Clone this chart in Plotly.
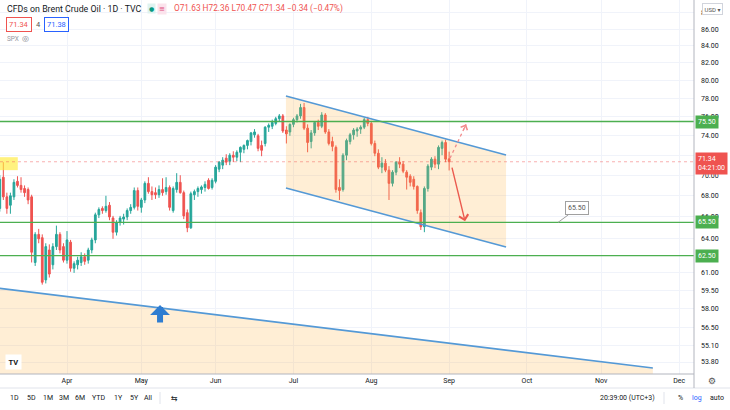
import math
import plotly.graph_objects as go

# ---------------- data ----------------
dates = [
    "2021-03-01", "2021-03-02", "2021-03-03", "2021-03-04", "2021-03-05", "2021-03-08", "2021-03-09",
    "2021-03-10", "2021-03-11", "2021-03-12", "2021-03-15", "2021-03-16", "2021-03-17", "2021-03-18",
    "2021-03-19", "2021-03-22", "2021-03-23", "2021-03-24", "2021-03-25", "2021-03-26", "2021-03-29",
    "2021-03-30", "2021-03-31",
    "2021-04-01", "2021-04-05", "2021-04-06", "2021-04-07", "2021-04-08", "2021-04-09", "2021-04-12",
    "2021-04-13", "2021-04-14", "2021-04-15", "2021-04-16", "2021-04-19", "2021-04-20", "2021-04-21",
    "2021-04-22", "2021-04-23", "2021-04-26", "2021-04-27", "2021-04-28", "2021-04-29", "2021-04-30",
    "2021-05-03", "2021-05-04", "2021-05-05", "2021-05-06", "2021-05-07", "2021-05-10", "2021-05-11",
    "2021-05-12", "2021-05-13", "2021-05-14", "2021-05-17", "2021-05-18", "2021-05-19", "2021-05-20",
    "2021-05-21", "2021-05-24", "2021-05-25", "2021-05-26", "2021-05-27", "2021-05-28", "2021-05-31",
    "2021-06-01", "2021-06-02", "2021-06-03", "2021-06-04", "2021-06-07", "2021-06-08", "2021-06-09",
    "2021-06-10", "2021-06-11", "2021-06-14", "2021-06-15", "2021-06-16", "2021-06-17", "2021-06-18",
    "2021-06-21", "2021-06-22", "2021-06-23", "2021-06-24", "2021-06-25", "2021-06-28", "2021-06-29",
    "2021-06-30",
    "2021-07-01", "2021-07-02", "2021-07-05", "2021-07-06", "2021-07-07", "2021-07-08", "2021-07-09",
    "2021-07-12", "2021-07-13", "2021-07-14", "2021-07-15", "2021-07-16", "2021-07-19", "2021-07-20",
    "2021-07-21", "2021-07-22", "2021-07-23", "2021-07-26", "2021-07-27", "2021-07-28", "2021-07-29",
    "2021-07-30",
    "2021-08-02", "2021-08-03", "2021-08-04", "2021-08-05", "2021-08-06", "2021-08-09", "2021-08-10",
    "2021-08-11", "2021-08-12", "2021-08-13", "2021-08-16", "2021-08-17", "2021-08-18", "2021-08-19",
    "2021-08-20", "2021-08-23", "2021-08-24", "2021-08-25", "2021-08-26", "2021-08-27", "2021-08-30",
    "2021-08-31", "2021-09-01",
]
opens = [
    64.2, 63.7, 62.7, 64.1, 66.8, 69.8, 67.9, 67.1, 67.9, 69.4, 69.0, 68.7, 68.6, 67.9, 61.9, 64.4,
    64.1, 60.4, 63.0, 61.7, 63.3, 64.4, 63.3,
    62.1, 63.7, 61.4, 61.7, 61.9, 62.4, 62.1, 63.0, 63.9, 66.2, 66.8, 66.6, 67.1, 65.9, 64.6, 65.5,
    65.8, 66.0, 66.6, 66.9, 68.5,
    66.9, 67.6, 69.2, 68.4, 68.3, 68.1, 68.6, 68.4, 68.8, 66.6, 68.6, 69.3, 68.3, 66.4, 65.0, 68.1,
    68.4, 68.6, 68.8, 69.5, 68.8,
    69.4, 70.6, 71.0, 71.7, 71.4, 72.0, 71.8, 72.3, 72.6, 73.0, 73.4, 74.1, 74.0, 73.0, 73.2, 74.9,
    75.0, 75.3, 75.8, 76.1, 74.6, 74.4,
    75.2, 75.7, 76.1, 77.0, 74.8, 73.4, 74.3, 75.4, 75.0, 76.2, 74.4, 73.4, 72.8, 68.8, 68.6, 72.0,
    73.4, 74.1, 74.5, 74.7, 74.9, 75.7,
    75.3, 73.2, 72.2, 70.8, 71.2, 70.5, 69.2, 70.3, 71.3, 71.1, 70.3, 69.9, 69.6, 68.9, 66.4, 65.1,
    68.7, 70.8, 71.6, 71.1, 72.7, 73.3, 71.63,
]
highs = [
    64.8, 64.0, 64.8, 67.0, 70.0, 71.3, 68.3, 68.3, 69.6, 69.9, 69.8, 69.0, 68.8, 68.1, 64.6, 64.9,
    64.4, 63.6, 63.5, 63.6, 65.2, 64.6, 63.6,
    64.7, 63.9, 62.0, 62.4, 62.8, 62.7, 63.2, 64.1, 66.4, 66.9, 67.0, 68.0, 67.4, 66.1, 65.7, 66.1,
    66.3, 66.8, 67.2, 68.8, 68.8,
    67.8, 69.4, 69.8, 68.9, 68.8, 69.0, 69.7, 69.8, 69.0, 68.9, 70.2, 70.0, 68.5, 66.7, 68.4, 68.6,
    68.9, 69.0, 69.4, 69.7, 69.7,
    71.0, 71.4, 71.8, 72.1, 72.2, 72.4, 72.5, 72.9, 73.1, 73.6, 74.4, 74.7, 74.2, 73.5, 75.0, 75.3,
    75.7, 76.0, 76.3, 76.3, 75.0, 75.3,
    75.9, 76.3, 77.4, 77.5, 75.2, 74.6, 75.5, 75.7, 76.5, 76.4, 74.7, 73.9, 73.0, 69.6, 72.2, 73.7,
    74.3, 74.8, 74.9, 75.1, 75.9, 76.0,
    75.5, 73.5, 72.6, 71.8, 71.6, 70.9, 70.5, 71.4, 71.8, 71.4, 70.5, 70.1, 69.9, 69.0, 66.7, 68.9,
    71.1, 71.8, 71.9, 73.0, 73.5, 73.6, 72.36,
]
lows = [
    63.1, 62.3, 62.3, 63.5, 66.5, 67.6, 66.3, 66.3, 67.6, 68.8, 68.3, 67.9, 67.2, 61.9, 61.6, 63.6,
    60.0, 60.1, 60.6, 61.3, 63.0, 62.7, 61.9,
    61.8, 61.1, 61.0, 61.3, 61.6, 61.7, 61.8, 62.7, 63.6, 65.9, 66.3, 66.4, 65.7, 64.0, 64.3, 65.2,
    65.3, 65.7, 66.3, 66.7, 66.6,
    66.4, 67.3, 68.2, 67.6, 67.7, 67.8, 68.0, 68.1, 66.6, 66.4, 68.3, 68.2, 65.8, 64.6, 64.9, 67.6,
    67.9, 68.2, 68.4, 68.6, 68.6,
    69.2, 70.3, 70.6, 71.0, 71.0, 71.3, 71.4, 71.3, 72.2, 72.6, 73.0, 73.8, 72.4, 71.9, 72.9, 74.4,
    74.7, 75.1, 75.5, 74.3, 73.2, 74.0,
    74.9, 75.4, 75.8, 74.6, 72.3, 72.7, 74.0, 74.6, 74.8, 74.2, 73.0, 72.4, 68.3, 67.6, 68.4, 71.5,
    73.1, 73.6, 73.9, 74.2, 74.7, 75.0,
    73.0, 71.9, 70.6, 70.2, 70.3, 67.6, 68.9, 70.0, 70.7, 70.2, 68.6, 68.9, 68.6, 66.3, 64.8, 64.6,
    68.4, 70.5, 70.7, 70.6, 72.0, 71.3, 70.47,
]
closes = [
    63.7, 62.7, 64.1, 66.7, 69.6, 67.9, 66.8, 68.0, 69.3, 69.0, 68.6, 68.3, 67.6, 62.8, 64.4, 64.0,
    60.2, 63.3, 60.9, 63.3, 64.4, 63.0, 62.1,
    63.9, 61.4, 61.8, 62.1, 62.4, 62.0, 63.0, 63.9, 66.2, 66.7, 66.6, 67.0, 66.0, 64.6, 65.5, 65.9,
    66.0, 66.6, 66.9, 68.5, 67.0,
    67.6, 69.2, 68.4, 68.1, 68.1, 68.6, 68.3, 68.8, 66.9, 68.7, 69.3, 68.3, 66.1, 65.0, 68.2, 68.4,
    68.7, 68.85, 69.1, 68.7, 69.5,
    70.8, 71.3, 71.5, 71.3, 72.0, 71.8, 72.3, 72.8, 73.0, 73.5, 74.3, 74.4, 72.7, 72.5, 74.9, 75.1,
    75.4, 75.8, 76.1, 74.5, 74.2, 75.2,
    75.7, 76.1, 77.0, 74.8, 73.3, 74.3, 75.4, 75.0, 76.2, 74.4, 73.2, 72.9, 68.6, 68.5, 72.0, 73.5,
    74.1, 74.6, 74.7, 74.9, 75.7, 75.3,
    73.2, 72.2, 70.8, 71.2, 70.5, 69.2, 70.3, 71.3, 71.1, 70.4, 69.8, 69.3, 68.9, 66.6, 65.1, 68.7,
    70.9, 71.6, 71.1, 72.8, 73.3, 71.6, 71.34,
]

month_ticks = ["2021-04-01", "2021-05-03", "2021-06-01", "2021-07-01", "2021-08-02",
               "2021-09-01", "2021-10-01", "2021-11-01", "2021-12-01"]
month_labels = ["Apr", "May", "Jun", "Jul", "Aug", "Sep", "Oct", "Nov", "Dec"]
price_ticks = [53.8, 55.1, 56.5, 58.0, 59.5, 61.0, 64.0, 66.0, 68.0, 70.0, 72.0, 74.0,
               76.0, 78.0, 80.0, 82.0, 84.0, 86.0, 88.0]

levels = [75.50, 65.50, 62.50]
last_price = 71.34

# drawings (date, price)
x_start, x_end = "2021-03-05 01:25", "2021-12-07 05:00"
channel_x = ["2021-06-28 21:00", "2021-09-23 02:00"]
channel_upper = [78.26, 72.02]
channel_lower = [68.75, 63.26]
trend_x = ["2021-03-04 12:00", "2021-11-19 14:00"]
trend_y = [59.70, 53.35]
yellow_x = ["2021-03-03", "2021-03-12 02:00"]
yellow_y = [70.50, 71.80]
down_arrow = (("2021-09-01 17:00", 70.9), ("2021-09-07 12:00", 65.6))
up_arrow = (("2021-09-01 06:00", 71.7), ("2021-09-07 19:00", 75.2))
callout_point = ("2021-10-13 19:00", 65.50)
blue_arrow_tip = ("2021-05-10 07:00", 58.3)

# ---------------- figure ----------------
W, H = 730, 410
PL, PR, PT, PB = 0, 36, 0, 36
PW, PH = W - PL - PR, H - PT - PB


def px(X):
    return (X - PL) / PW


def py(Y):
    return (H - PB - Y) / PH


RED = "#ef5350"
GREEN = "#26a69a"
LEVEL = "#4caf50"
BLUE = "#5499d6"
FILL = "rgba(255,179,64,0.22)"
FONT = "Roboto, 'DejaVu Sans', sans-serif"

fig = go.Figure()

fig.add_trace(go.Candlestick(
    x=dates, open=opens, high=highs, low=lows, close=closes,
    increasing=dict(line=dict(color=GREEN, width=1), fillcolor=GREEN),
    decreasing=dict(line=dict(color=RED, width=1), fillcolor=RED),
    whiskerwidth=0, hoverinfo="skip", showlegend=False,
))

# yellow highlight box
fig.add_trace(go.Scatter(
    x=[yellow_x[0], yellow_x[1], yellow_x[1], yellow_x[0]],
    y=[yellow_y[0], yellow_y[0], yellow_y[1], yellow_y[1]],
    fill="toself", fillcolor="rgba(255,235,59,0.65)", line=dict(width=0),
    mode="lines", hoverinfo="skip", showlegend=False))

# long trend line area
fig.add_trace(go.Scatter(
    x=[trend_x[0], trend_x[1], trend_x[1], trend_x[0]],
    y=[trend_y[0], trend_y[1], 50.0, 50.0],
    fill="toself", fillcolor=FILL, line=dict(width=0),
    mode="lines", hoverinfo="skip", showlegend=False))
fig.add_trace(go.Scatter(x=trend_x, y=trend_y, mode="lines",
                         line=dict(color=BLUE, width=1.6), hoverinfo="skip", showlegend=False))

# channel
fig.add_trace(go.Scatter(
    x=[channel_x[0], channel_x[1], channel_x[1], channel_x[0]],
    y=[channel_upper[0], channel_upper[1], channel_lower[1], channel_lower[0]],
    fill="toself", fillcolor=FILL, line=dict(width=0),
    mode="lines", hoverinfo="skip", showlegend=False))
fig.add_trace(go.Scatter(x=channel_x, y=channel_upper, mode="lines",
                         line=dict(color=BLUE, width=1.6), hoverinfo="skip", showlegend=False))
fig.add_trace(go.Scatter(x=channel_x, y=channel_lower, mode="lines",
                         line=dict(color=BLUE, width=1.6), hoverinfo="skip", showlegend=False))

# horizontal levels
for lv in levels:
    fig.add_trace(go.Scatter(x=[x_start, x_end], y=[lv, lv], mode="lines",
                             line=dict(color=LEVEL, width=1.4), hoverinfo="skip", showlegend=False))
# last price dotted line
fig.add_trace(go.Scatter(x=[x_start, x_end], y=[last_price, last_price], mode="lines",
                         line=dict(color="rgba(239,83,80,0.45)", width=1, dash="dot"),
                         hoverinfo="skip", showlegend=False))

# dotted arrow shaft
fig.add_trace(go.Scatter(x=[up_arrow[0][0], up_arrow[1][0]], y=[up_arrow[0][1], up_arrow[1][1]],
                         mode="lines", line=dict(color="#f28b8b", width=1.3, dash="dot"),
                         hoverinfo="skip", showlegend=False))

ann = []
lg = math.log10

# solid red arrow
ann.append(dict(x=down_arrow[1][0], y=lg(down_arrow[1][1]), xref="x", yref="y",
                ax=down_arrow[0][0], ay=lg(down_arrow[0][1]), axref="x", ayref="y",
                showarrow=True, arrowhead=4, arrowsize=1.3, arrowwidth=1.4, arrowcolor="#eb5a4e",
                text=""))
# dotted arrow head
ann.append(dict(x=up_arrow[1][0], y=lg(up_arrow[1][1]), xref="x", yref="y",
                ax=-3.4, ay=7.2, showarrow=True, arrowhead=4, arrowsize=1.3, arrowwidth=1.1,
                arrowcolor="#f28b8b", text=""))
# callout
ann.append(dict(x=callout_point[0], y=lg(callout_point[1]), xref="x", yref="y",
                ax=19, ay=-14, showarrow=True, arrowhead=0, arrowwidth=1, arrowcolor="#a0a0a0",
                text="65.50", font=dict(size=7, color="#555", family=FONT),
                bgcolor="white", bordercolor="#a0a0a0", borderwidth=1, borderpad=2))
# blue up arrow icon
ann.append(dict(x=blue_arrow_tip[0], y=lg(blue_arrow_tip[1]), xref="x", yref="y",
                ax=0, ay=19, showarrow=True, arrowhead=1, arrowsize=0.55, arrowwidth=6,
                arrowcolor="#2f7dd1", text=""))

# right axis price labels
for lv in levels:
    ann.append(dict(x=1, y=lg(lv), xref="paper", yref="y", xanchor="left", yanchor="middle",
                    xshift=1, text=f"{lv:.2f}", showarrow=False,
                    font=dict(size=7, color="white", family=FONT),
                    bgcolor=LEVEL, borderpad=2))
ann.append(dict(x=1, y=lg(71.16), xref="paper", yref="y", xanchor="left", yanchor="middle",
                xshift=1, text=f"{last_price:.2f}<br>04:21:00", showarrow=False,
                font=dict(size=7, color="white", family=FONT), align="left",
                bgcolor=RED, borderpad=2))

# header
ann.append(dict(x=px(5), y=py(9), xref="paper", yref="paper", xanchor="left", yanchor="middle",
                text="CFDs on Brent Crude Oil · 1D · TVC", showarrow=False,
                font=dict(size=8.8, color="#131722", family=FONT)))
ann.append(dict(x=px(151), y=py(9), xref="paper", yref="paper", xanchor="center", yanchor="middle",
                text="●", showarrow=False, font=dict(size=6, color="#089981", family="DejaVu Sans"),
                bgcolor="#dff3f0", borderpad=1))
ann.append(dict(x=px(162), y=py(9), xref="paper", yref="paper", xanchor="center", yanchor="middle",
                text="≡", showarrow=False, font=dict(size=7, color="#e04a7a", family="DejaVu Sans"),
                bgcolor="#fbe3ec", borderpad=1))
ann.append(dict(x=px(172), y=py(9), xref="paper", yref="paper", xanchor="left", yanchor="middle",
                text="O71.63 H72.36 L70.47 C71.34 −0.34 (−0.47%)", showarrow=False,
                font=dict(size=8.3, color=RED, family=FONT)))
ann.append(dict(x=px(6), y=py(24), xref="paper", yref="paper", xanchor="left", yanchor="middle",
                text="71.34", showarrow=False, font=dict(size=7.5, color=RED, family=FONT),
                bordercolor=RED, borderwidth=1, borderpad=2, bgcolor="white"))
ann.append(dict(x=px(38), y=py(24), xref="paper", yref="paper", xanchor="center", yanchor="middle",
                text="4", showarrow=False, font=dict(size=7.5, color="#555", family=FONT)))
ann.append(dict(x=px(44), y=py(24), xref="paper", yref="paper", xanchor="left", yanchor="middle",
                text="71.38", showarrow=False, font=dict(size=7.5, color="#2962ff", family=FONT),
                bordercolor="#2962ff", borderwidth=1, borderpad=2, bgcolor="white"))
ann.append(dict(x=px(5), y=py(39), xref="paper", yref="paper", xanchor="left", yanchor="middle",
                text="SPX", showarrow=False, font=dict(size=6.5, color="#9598a1", family=FONT)))
ann.append(dict(x=px(25), y=py(39), xref="paper", yref="paper", xanchor="center", yanchor="middle",
                text="◎", showarrow=False, font=dict(size=8, color="#787b86", family="DejaVu Sans")))
ann.append(dict(x=px(712), y=py(9), xref="paper", yref="paper", xanchor="center", yanchor="middle",
                text="USD ▾", showarrow=False, font=dict(size=6, color="#555", family=FONT),
                bordercolor="#d1d4dc", borderwidth=1, borderpad=1.5, bgcolor="white"))

# TV logo
ann.append(dict(x=px(13), y=py(362), xref="paper", yref="paper", xanchor="center", yanchor="middle",
                text="<b>TV</b>", showarrow=False, font=dict(size=7.5, color="#131722", family=FONT),
                bgcolor="white", borderpad=2.5))

# bottom toolbar
for lab, xx in [("1D", 8), ("5D", 25), ("1M", 41), ("3M", 57), ("6M", 73), ("YTD", 90),
                ("1Y", 112), ("5Y", 128), ("All", 142)]:
    ann.append(dict(x=px(xx), y=py(398), xref="paper", yref="paper", xanchor="left", yanchor="middle",
                    text=lab, showarrow=False, font=dict(size=7, color="#131722", family=FONT)))
ann.append(dict(x=px(174), y=py(398), xref="paper", yref="paper", xanchor="center", yanchor="middle",
                text="⇆", showarrow=False, font=dict(size=8, color="#131722", family="DejaVu Sans")))
ann.append(dict(x=px(657), y=py(398), xref="paper", yref="paper", xanchor="right", yanchor="middle",
                text="20:39:00 (UTC+3)", showarrow=False, font=dict(size=7, color="#131722", family=FONT)))
ann.append(dict(x=px(680), y=py(398), xref="paper", yref="paper", xanchor="center", yanchor="middle",
                text="%", showarrow=False, font=dict(size=7, color="#131722", family=FONT)))
ann.append(dict(x=px(697), y=py(398), xref="paper", yref="paper", xanchor="center", yanchor="middle",
                text="log", showarrow=False, font=dict(size=7, color="#2962ff", family=FONT)))
ann.append(dict(x=px(717), y=py(398), xref="paper", yref="paper", xanchor="center", yanchor="middle",
                text="auto", showarrow=False, font=dict(size=7, color="#131722", family=FONT)))
ann.append(dict(x=px(712), y=py(381), xref="paper", yref="paper", xanchor="center", yanchor="middle",
                text="⚙", showarrow=False, font=dict(size=9, color="#555", family="DejaVu Sans")))

shapes = [
    dict(type="line", xref="paper", yref="paper", x0=px(0), x1=px(730), y0=py(388), y1=py(388),
         line=dict(color="#e0e3eb", width=1)),
    dict(type="line", xref="paper", yref="paper", x0=px(694), x1=px(694), y0=py(0), y1=py(388),
         line=dict(color="#b2b5be", width=1)),
    dict(type="line", xref="paper", yref="paper", x0=px(0), x1=px(694), y0=py(374), y1=py(374),
         line=dict(color="#b2b5be", width=1)),
    dict(type="line", xref="paper", yref="paper", x0=px(160), x1=px(160), y0=py(392), y1=py(404),
         line=dict(color="#e0e3eb", width=1)),
    dict(type="line", xref="paper", yref="paper", x0=px(664), x1=px(664), y0=py(392), y1=py(404),
         line=dict(color="#e0e3eb", width=1)),
]

fig.update_layout(
    width=W, height=H, margin=dict(l=PL, r=PR, t=PT, b=PB),
    paper_bgcolor="white", plot_bgcolor="white",
    showlegend=False, annotations=ann, shapes=shapes,
    font=dict(family=FONT, size=7, color="#131722"),
    xaxis=dict(
        type="date", range=[x_start, x_end],
        rangebreaks=[dict(bounds=["sat", "mon"]), dict(values=["2021-04-02"])],
        rangeslider=dict(visible=False),
        tickvals=month_ticks, ticktext=month_labels,
        showgrid=True, gridcolor="#f0f3fa", gridwidth=1,
        showline=False, zeroline=False, ticks="",
        tickfont=dict(size=7, color="#131722", family=FONT),
        ticklabelstandoff=1, fixedrange=True,
    ),
    yaxis=dict(
        type="log", side="right",
        range=[math.log10(52.9), math.log10(89.6)],
        tickvals=price_ticks, ticktext=[f"{v:.2f}" for v in price_ticks],
        showgrid=True, gridcolor="#f0f3fa", gridwidth=1,
        showline=False, zeroline=False, ticks="",
        tickfont=dict(size=7, color="#131722", family=FONT),
        ticklabelstandoff=6, fixedrange=True,
    ),
)

fig.write_html(
    "out.html",
    config={"displayModeBar": False},
    post_script="document.body.style.margin='0';document.body.style.overflow='hidden';",
)
